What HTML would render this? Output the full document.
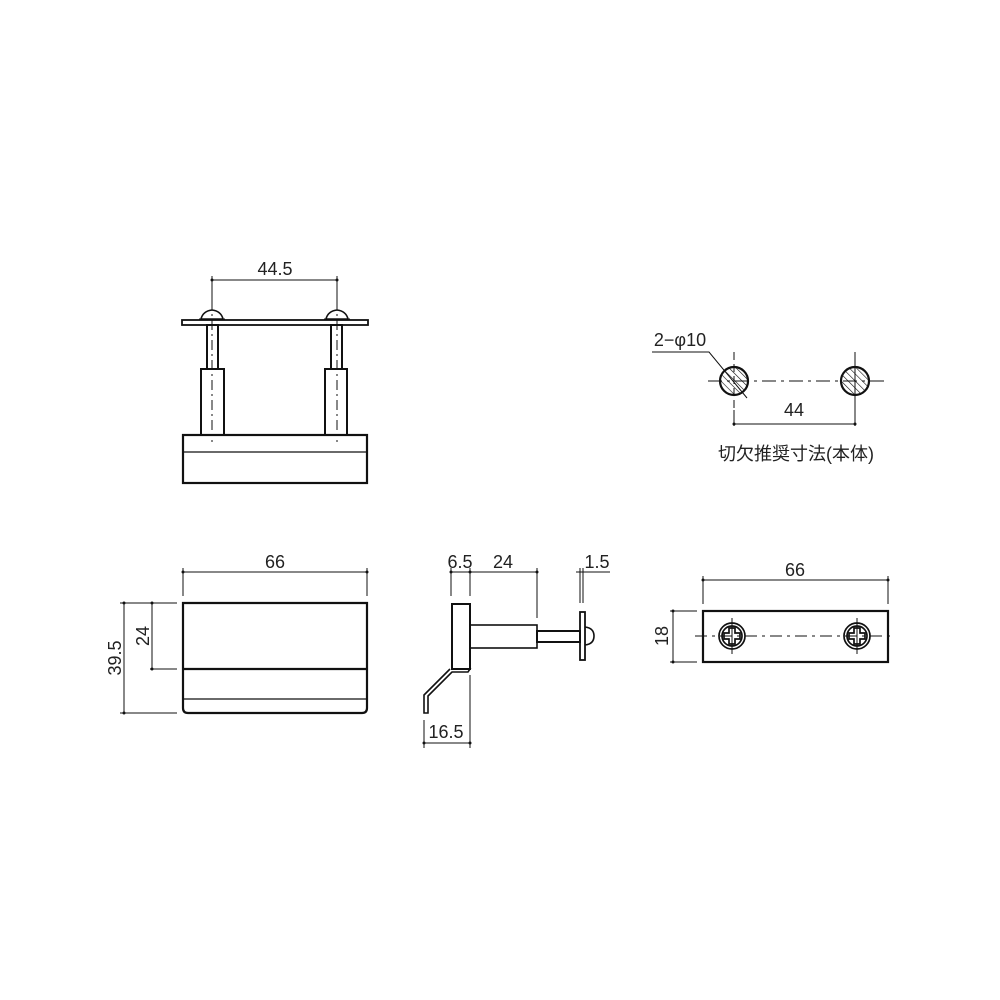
<!DOCTYPE html>
<html><head><meta charset="utf-8"><style>body{margin:0;background:#fff}svg{display:block}text{font-family:"Liberation Sans","Noto Sans CJK JP",sans-serif;fill:#222}</style></head>
<body>
<svg width="1000" height="1000" viewBox="0 0 1000 1000" xmlns="http://www.w3.org/2000/svg">
<defs>
<pattern id="h" width="5" height="5" patternUnits="userSpaceOnUse" patternTransform="rotate(-45)"><line x1="0" y1="0" x2="0" y2="5" stroke="#111" stroke-width="1.2"/></pattern>
</defs>
<g fill="none" stroke="#111" stroke-width="1">
<!-- TOP VIEW -->
<line x1="212" y1="280" x2="337" y2="280"/>
<line x1="212" y1="276" x2="212" y2="300"/><line x1="337" y1="276" x2="337" y2="300"/>
<rect x="182" y="320" width="186" height="5" stroke-width="1.8"/>
<path d="M201 319 Q203 311 212 310 Q221 311 223 319 Z M326 319 Q328 311 337 310 Q346 311 348 319 Z" stroke-width="1.6"/>
<line x1="199" y1="319" x2="225" y2="319"/><line x1="324" y1="319" x2="350" y2="319"/>
<rect x="207" y="325" width="11" height="44" stroke-width="2"/>
<rect x="331" y="325" width="11" height="44" stroke-width="2"/>
<rect x="201" y="369" width="23" height="66" stroke-width="2"/>
<rect x="325" y="369" width="22" height="66" stroke-width="2"/>
<rect x="183" y="435" width="184" height="48" stroke-width="2.2"/>
<line x1="183" y1="452" x2="367" y2="452" stroke-width="1.3"/>
<line x1="212" y1="300" x2="212" y2="442" stroke-dasharray="10,4,2,4"/>
<line x1="337" y1="300" x2="337" y2="442" stroke-dasharray="10,4,2,4"/>

<!-- CUTOUT -->
<line x1="708" y1="381" x2="885" y2="381" stroke-dasharray="14,5,3,5"/>
<circle cx="734" cy="381" r="14" fill="url(#h)" stroke-width="2.2"/>
<circle cx="855" cy="381" r="14" fill="url(#h)" stroke-width="2.2"/>
<line x1="734" y1="352" x2="734" y2="410" stroke-dasharray="8,4"/>
<line x1="855" y1="352" x2="855" y2="426"/>
<line x1="734" y1="410" x2="734" y2="426"/>
<line x1="734" y1="424" x2="855" y2="424"/>
<polyline points="652,352 709,352 747,398"/>

<!-- FRONT VIEW -->
<line x1="183" y1="572" x2="367" y2="572"/>
<line x1="183" y1="568" x2="183" y2="596"/><line x1="367" y1="568" x2="367" y2="596"/>
<path d="M183 603 H367 V708 Q367 713 362 713 H188 Q183 713 183 708 Z" stroke-width="2.2"/>
<line x1="183" y1="669" x2="367" y2="669" stroke-width="2.2"/>
<line x1="183" y1="699" x2="367" y2="699" stroke-width="1.3"/>
<line x1="124" y1="603" x2="124" y2="713"/><line x1="152" y1="603" x2="152" y2="669"/>
<line x1="120" y1="603" x2="177" y2="603"/><line x1="150" y1="669" x2="177" y2="669"/><line x1="120" y1="713" x2="177" y2="713"/>

<!-- SIDE VIEW -->
<line x1="451" y1="572" x2="537" y2="572"/>
<line x1="451" y1="568" x2="451" y2="596"/><line x1="470" y1="568" x2="470" y2="596"/><line x1="537" y1="568" x2="537" y2="618"/>
<line x1="580" y1="568" x2="580" y2="603"/><line x1="583" y1="568" x2="583" y2="603"/><line x1="576" y1="572" x2="610" y2="572"/>
<rect x="452" y="604" width="18" height="65" stroke-width="2"/>
<rect x="470" y="625" width="67" height="23" stroke-width="1.6"/>
<rect x="537" y="631" width="43" height="11" stroke-width="2"/>
<rect x="580" y="612" width="5" height="48" stroke-width="1.8"/>
<path d="M585 627 Q594 628 594 636 Q594 644 585 645" stroke-width="1.6"/>
<path d="M452 669 L470 669 L468 672 L452 672 L428 696 L428 713 L424 713 L424 695 L450 669" stroke-width="1.6"/>
<line x1="470" y1="675" x2="470" y2="748"/><line x1="424" y1="720" x2="424" y2="748"/>
<line x1="424" y1="743" x2="470" y2="743"/>

<!-- RIGHT VIEW -->
<line x1="703" y1="580" x2="888" y2="580"/>
<line x1="703" y1="576" x2="703" y2="604"/><line x1="888" y1="576" x2="888" y2="604"/>
<rect x="703" y="611" width="185" height="51" stroke-width="2.2"/>
<line x1="673" y1="611" x2="673" y2="662"/>
<line x1="670" y1="611" x2="697" y2="611"/><line x1="670" y1="662" x2="697" y2="662"/>
<line x1="695" y1="636" x2="895" y2="636" stroke-dasharray="12,5,3,5"/>
<g stroke-width="1.7">
<circle cx="732" cy="636" r="13"/><circle cx="732" cy="636" r="10"/>
<circle cx="857" cy="636" r="13"/><circle cx="857" cy="636" r="10"/>
<path d="M729 628h6v5h5v6h-5v5h-6v-5h-5v-6h5z"/>
<path d="M854 628h6v5h5v6h-5v5h-6v-5h-5v-6h5z"/>
</g>
<line x1="732" y1="618" x2="732" y2="654"/><line x1="857" y1="618" x2="857" y2="654"/>
</g>
<g fill="#111">
<circle cx="212" cy="280" r="1.5"/><circle cx="337" cy="280" r="1.5"/>
<circle cx="183" cy="572" r="1.5"/><circle cx="367" cy="572" r="1.5"/>
<circle cx="124" cy="603" r="1.5"/><circle cx="124" cy="713" r="1.5"/><circle cx="152" cy="603" r="1.5"/><circle cx="152" cy="669" r="1.5"/>
<circle cx="451" cy="572" r="1.5"/><circle cx="470" cy="572" r="1.5"/><circle cx="537" cy="572" r="1.5"/>
<circle cx="424" cy="743" r="1.5"/><circle cx="470" cy="743" r="1.5"/>
<circle cx="703" cy="580" r="1.5"/><circle cx="888" cy="580" r="1.5"/><circle cx="673" cy="611" r="1.5"/><circle cx="673" cy="662" r="1.5"/>
<circle cx="734" cy="424" r="1.5"/><circle cx="855" cy="424" r="1.5"/>
</g>
<g font-size="18" text-anchor="middle">
<text x="275" y="275">44.5</text>
<text x="275" y="568">66</text>
<text x="460" y="568">6.5</text>
<text x="503" y="568">24</text>
<text x="597" y="568">1.5</text>
<text x="446" y="738">16.5</text>
<text x="795" y="576">66</text>
<text x="794" y="416">44</text>
<text x="680" y="346">2−φ10</text>
<text transform="translate(149,636) rotate(-90)">24</text>
<text transform="translate(121,658) rotate(-90)">39.5</text>
<text transform="translate(668,636) rotate(-90)">18</text>
<text x="796" y="460" font-size="18">切欠推奨寸法(本体)</text>
</g>
</svg>
</body></html>
